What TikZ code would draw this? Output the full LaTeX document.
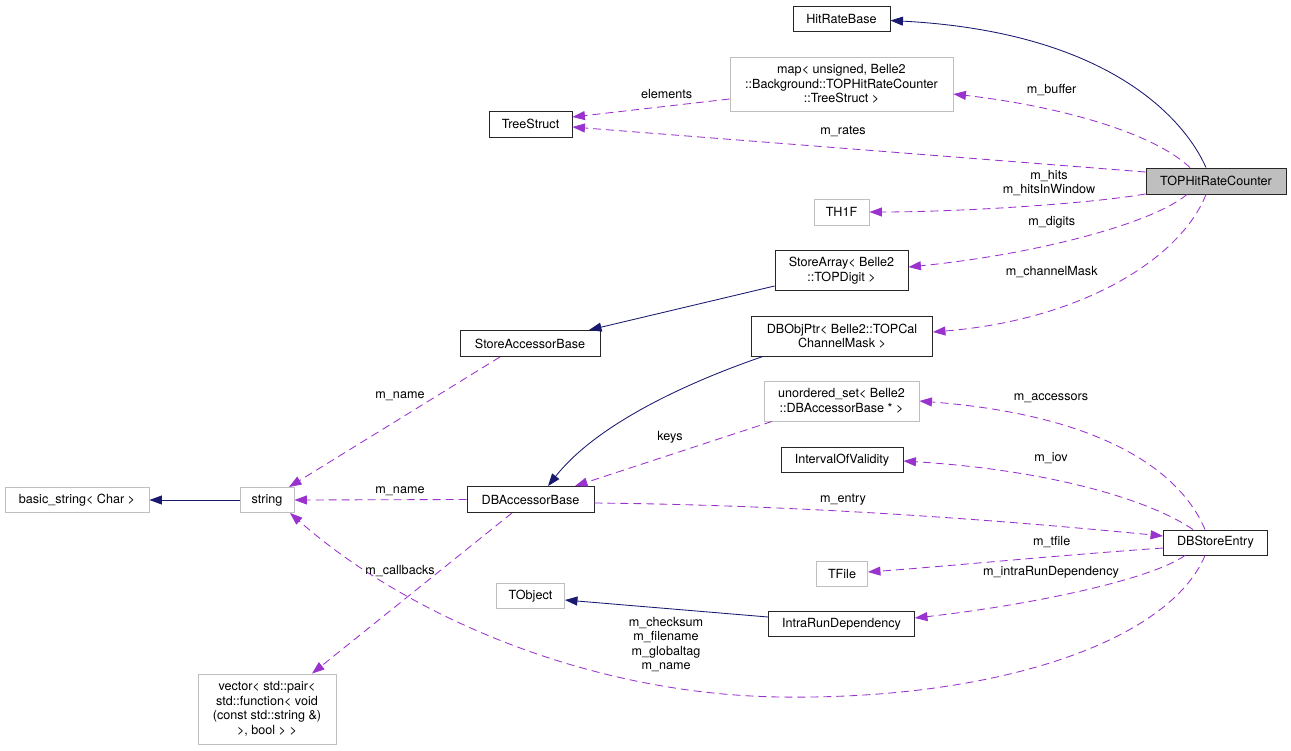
\documentclass[tikz,border=0pt]{standalone}
\usepackage{fontspec}
\setmainfont{TeX Gyre Heros}
\usetikzlibrary{arrows.meta}
\definecolor{usec}{HTML}{9A32CD}
\definecolor{inhc}{HTML}{191970}
\definecolor{boxg}{HTML}{BFBFBF}
\newcommand\fsz{\fontsize{12.6}{14.5}\selectfont}
\tikzset{
  cls/.style={draw=black!85, line width=0.9pt, inner sep=0pt, align=center, font=\fsz},
  ucls/.style={cls, draw=boxg},
  lbl/.style={inner sep=0pt, align=center, font=\fsz},
  tip/.style={-{Triangle[length=12.5pt,width=9pt]}},
  usee/.style={draw=usec, line width=0.85pt, dash pattern=on 8pt off 5pt, tip, fill=none},
  inh/.style={draw=inhc, line width=0.85pt, tip}
}
\begin{document}
\begin{tikzpicture}[x=1pt,y=-1pt]
\useasboundingbox[fill=white] (0,0) rectangle (1291,750);
% classes
\node[cls, minimum width=97pt, minimum height=25pt] (hrb) at (841.5,18.5) {HitRateBase};
\node[ucls, minimum width=223pt, minimum height=54pt] (map) at (841.5,84) {map\textless{} unsigned, Belle2\\::Background::TOPHitRateCounter\\::TreeStruct \textgreater};
\node[cls, minimum width=83pt, minimum height=26pt] (ts) at (530.5,124) {TreeStruct};
\node[ucls, minimum width=55pt, minimum height=26pt] (th1f) at (841.5,212) {TH1F};
\node[cls, fill=boxg, minimum width=140pt, minimum height=26pt] (cnt) at (1216,181) {TOPHitRateCounter};
\node[cls, minimum width=133pt, minimum height=40pt] (sa) at (841.5,270.5) {StoreArray\textless{} Belle2\\::TOPDigit \textgreater};
\node[cls, minimum width=181pt, minimum height=40pt] (dbo) at (842,336) {DBObjPtr\textless{} Belle2::TOPCal\\ChannelMask \textgreater};
\node[ucls, minimum width=155pt, minimum height=40pt] (us) at (841.5,401) {unordered\_set\textless{} Belle2\\::DBAccessorBase * \textgreater};
\node[cls, minimum width=140pt, minimum height=26pt] (sab) at (530,343.5) {StoreAccessorBase};
\node[ucls, minimum width=144pt, minimum height=25pt] (bs) at (77,500) {basic\_string\textless{} Char \textgreater};
\node[ucls, minimum width=54pt, minimum height=25pt] (str) at (267,500) {string};
\node[cls, minimum width=127pt, minimum height=26pt] (dba) at (530.5,499.5) {DBAccessorBase};
\node[cls, minimum width=122pt, minimum height=25pt] (iov) at (842,460) {IntervalOfValidity};
\node[cls, minimum width=104pt, minimum height=25pt] (dbse) at (1215.5,542.5) {DBStoreEntry};
\node[ucls, minimum width=51pt, minimum height=25pt] (tfile) at (842,573.5) {TFile};
\node[cls, minimum width=146pt, minimum height=25pt] (ird) at (841.5,624) {IntraRunDependency};
\node[ucls, minimum width=68pt, minimum height=25pt] (tobj) at (530.5,596) {TObject};
\node[ucls, minimum width=138pt, minimum height=70pt] (vec) at (267,709) {vector\textless{} std::pair\textless\\std::function\textless{} void\\(const std::string \&)\\\textgreater, bool \textgreater{} \textgreater};
% inheritance
\draw[inh] ([xshift=-10pt]cnt.north) .. controls (1185,120) and (1110,32) .. ([yshift=-2pt]hrb.east);
\draw[inh] ([yshift=-15.5pt]sa.west) -- ([xshift=59pt]sab.north);
\draw[inh] ([xshift=-79pt]dbo.south) .. controls (700,378) and (600,420) .. ([xshift=17.5pt]dba.north);
\draw[inh] (str.west) -- (bs.east);
\draw[inh] ([yshift=7pt]ird.west) -- ([yshift=-4pt]tobj.east);
% usage
\draw[usee] ([yshift=-15pt]map.west) -- ([yshift=7pt]ts.east);
\draw[usee] ([yshift=9pt]cnt.west) -- ([yshift=-3pt]ts.east);
\draw[usee] ([xshift=-26pt]cnt.north) .. controls (1150,130) and (1050,105) .. ([yshift=-10pt]map.east);
\draw[usee] ([yshift=-13pt]cnt.west) .. controls (1080,205) and (950,212) .. (th1f.east);
\draw[usee] ([xshift=-29pt]cnt.south) .. controls (1150,225) and (1030,255) .. ([yshift=3.5pt]sa.east);
\draw[usee] ([xshift=-10pt]cnt.south) .. controls (1180,260) and (1080,320) .. ([yshift=4pt]dbo.east);
\draw[usee] ([xshift=-30pt]sab.south) -- ([xshift=22pt]str.north);
\draw[usee] (dba.west) -- (str.east);
\draw[usee] ([xshift=-69.5pt]us.south) -- ([xshift=44.5pt]dba.north);
\draw[usee] ([yshift=-3.5pt]dba.east) .. controls (800,505) and (1000,520) .. ([yshift=6.5pt]dbse.west);
\draw[usee] ([xshift=-10.5pt]dbse.north) .. controls (1180,470) and (1100,415) .. (us.east);
\draw[usee] ([xshift=-22.5pt]dbse.north) .. controls (1150,500) and (1050,470) .. ([yshift=-1pt]iov.east);
\draw[usee] ([yshift=-5.5pt]dbse.west) .. controls (1050,556) and (950,566) .. ([yshift=1.5pt]tfile.east);
\draw[usee] ([xshift=-30.5pt]dbse.south) .. controls (1150,580) and (1030,605) .. ([yshift=6pt]ird.east);
\draw[usee] ([xshift=-10.5pt]dbse.south) .. controls (1170,640) and (1000,700) .. (780,697) .. controls (580,694) and (400,610) .. ([xshift=23pt]str.south);
\draw[usee] ([xshift=-18.5pt]dba.south) -- ([xshift=45pt]vec.north);
% labels
\node[lbl] (l1) at (666.7,94.3) {elements};
\node[lbl] (l2) at (843,131.5) {m\_rates};
\node[lbl] (l3) at (1051.7,90.5) {m\_buffer};
\node[lbl] (l4) at (1049,183) {m\_hits\\m\_hitsInWindow};
\node[lbl] (l5) at (1051.7,222.5) {m\_digits};
\node[lbl] (l6) at (1051.7,272.5) {m\_channelMask};
\node[lbl] (l7) at (400,396) {m\_name};
\node[lbl] (l8) at (400,491.5) {m\_name};
\node[lbl] (l9) at (670,437) {keys};
\node[lbl] (l10) at (843,500) {m\_entry};
\node[lbl] (l11) at (1051,398) {m\_accessors};
\node[lbl] (l12) at (1051,458) {m\_iov};
\node[lbl] (l13) at (1051.7,542) {m\_tfile};
\node[lbl] (l14) at (1051,572) {m\_intraRunDependency};
\node[lbl] (l15) at (666,644.7) {m\_checksum\\m\_filename\\m\_globaltag\\m\_name};
\node[lbl] (l16) at (400,570.7) {m\_callbacks};
\end{tikzpicture}
\end{document}
